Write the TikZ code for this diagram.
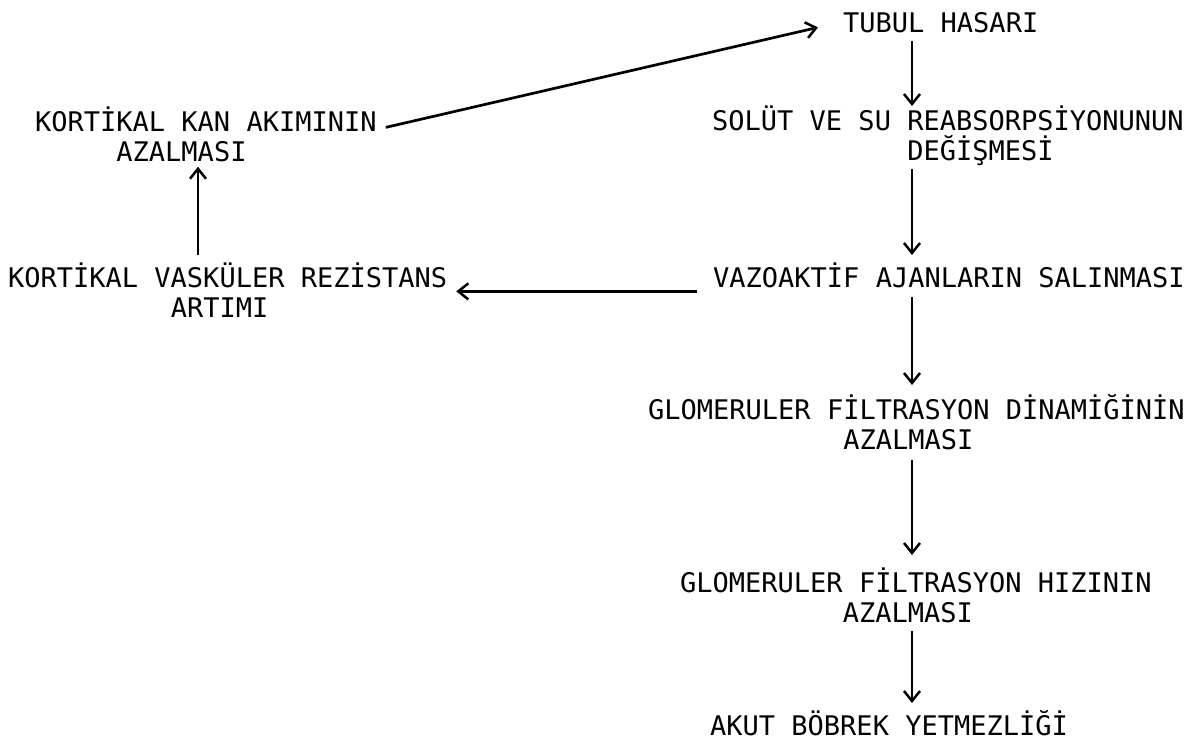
\documentclass[tikz,border=0pt]{standalone}
\usepackage{fontspec}
\usetikzlibrary{arrows.meta}
\newfontfamily\tw{DejaVu Sans Mono}
\newcommand\sk[1]{\hspace*{\dimexpr#1\fontcharwd\font`M\relax}}
\newcommand\topstrut{\rule{0pt}{27pt}}
\newcommand\botstrut{\rule[-5.4pt]{0pt}{0pt}}
\begin{document}
\begin{tikzpicture}[x=1pt,y=-1pt,
  txt/.style={font=\tw\fontsize{27}{30}\selectfont, align=left, inner sep=0pt, anchor=north west},
  arr/.style={line width=2.7pt, -{Straight Barb[length=10pt,width=16pt,line width=2.5pt]}}]
\path[fill=white,use as bounding box] (0,0) rectangle (1201,743);
\coordinate (axis) at (912,0);
\coordinate (laxis) at (198,0);
% right column
\node[txt] (tubul) at (843,5) {\topstrut TUBUL HASARI\botstrut};
\node[txt] (solut) at (712,103) {\topstrut SOLÜT VE SU REABSORPSİYONUNUN\\\sk{12}DEĞİŞMESİ\botstrut};
\node[txt] (vazo) at (713,260) {\topstrut VAZOAKTİF AJANLARIN SALINMASI\botstrut};
\node[txt] (gdin) at (648,392) {\topstrut GLOMERULER FİLTRASYON DİNAMİĞİNİN\\\sk{12}AZALMASI\botstrut};
\node[txt] (ghiz) at (680,565) {\topstrut GLOMERULER FİLTRASYON HIZININ\\\sk{10}AZALMASI\botstrut};
\node[txt] (akut) at (710,708) {\topstrut AKUT BÖBREK YETMEZLİĞİ\botstrut};
% left column
\node[txt] (kkan) at (35,104) {\topstrut KORTİKAL KAN AKIMININ\\\sk{5}AZALMASI\botstrut};
\node[txt] (kvas) at (8,260) {\topstrut KORTİKAL VASKÜLER REZİSTANS\\\sk{10}ARTIMI\botstrut};
% connectors
\draw[arr] ([yshift=-3pt]tubul.south -| axis) -- ([yshift=-3pt]solut.north -| axis);
\draw[arr] ([yshift=-3pt]solut.south -| axis) -- ([yshift=5pt]vazo.north -| axis);
\draw[arr] ([yshift=-4pt]vazo.south -| axis) -- ([yshift=7pt]gdin.north -| axis);
\draw[arr] ([yshift=-5pt]gdin.south -| axis) -- ([yshift=10pt]ghiz.north -| axis);
\draw[arr] ([yshift=-3pt]ghiz.south -| axis) -- ([yshift=5pt]akut.north -| axis);
\draw[arr] ([xshift=-16pt]vazo.west |- kvas.east) -- ([xshift=9pt]kvas.east);
\draw[arr] ([yshift=5pt]kvas.north -| laxis) -- (kkan.south -| laxis);
\draw[arr] ([xshift=9pt,yshift=8pt]kkan.east) -- ([xshift=-25pt,yshift=-6pt]tubul.west);
\end{tikzpicture}
\end{document}
